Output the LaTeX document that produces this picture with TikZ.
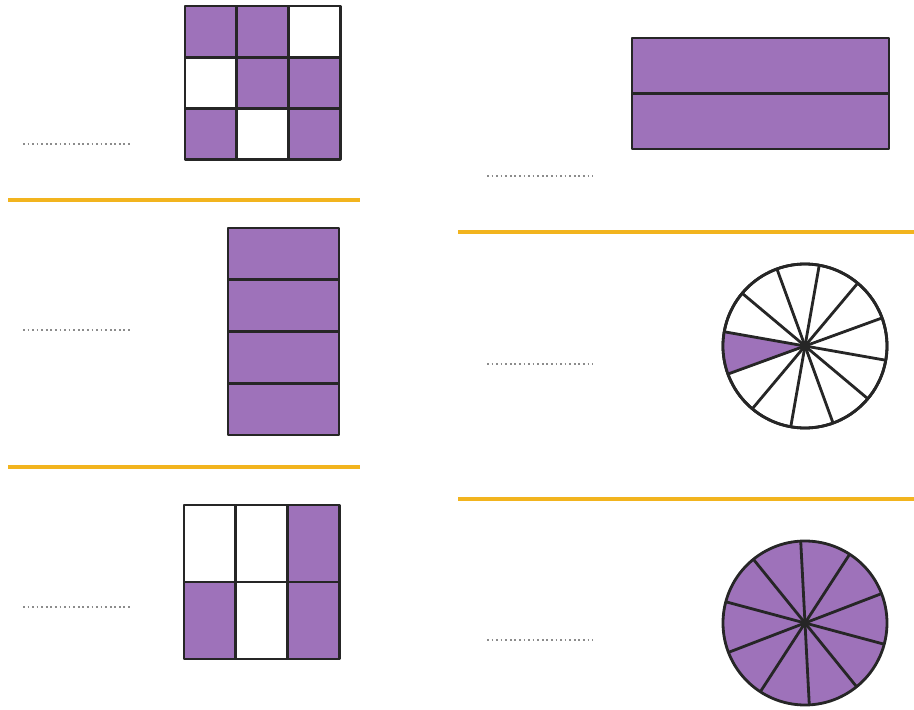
\documentclass[tikz,border=0pt]{standalone}
\usepackage{tikz}
\definecolor{fracpurple}{RGB}{158,114,186}
\definecolor{ruleyellow}{RGB}{242,180,30}
\tikzset{
  part/.style={draw=black!85,line width=1.6pt,line join=round},
  shade/.style={part,fill=fracpurple},
  blank/.style={part,fill=white},
  rule/.style={draw=ruleyellow,line width=2.1pt},
  answer/.style={draw=black!45,line width=0.8pt,dash pattern=on 1pt off 1.6pt}
}
\begin{document}
\begin{tikzpicture}[x=0.02cm,y=-0.02cm]
 \useasboundingbox (0,0) rectangle (914,710);
 % yellow separators
 \draw[rule] (8,200)--(360,200);
 \draw[rule] (8,467)--(360,467);
 \draw[rule] (458,232)--(914,232);
 \draw[rule] (458,499)--(914,499);
 % answer lines
 \draw[answer] (23,144)--(130,144);
 \draw[answer] (23,330)--(130,330);
 \draw[answer] (23,607)--(130,607);
 \draw[answer] (487,176)--(593,176);
 \draw[answer] (487,364)--(593,364);
 \draw[answer] (487,640)--(593,640);
 % 3x3 grid
 \foreach \c/\r/\s in {0/0/shade,1/0/shade,2/0/blank,0/1/blank,1/1/shade,2/1/shade,0/2/shade,1/2/blank,2/2/shade}
  \draw[\s] ({185+\c*51.7},{6+\r*51.3}) rectangle ++(51.7,51.3);
 % four strips
 \foreach \r in {0,...,3}
  \draw[shade] (228,{228+\r*51.75}) rectangle ++(111,51.75);
 % 3x2 grid
 \foreach \c/\r/\s in {0/0/blank,1/0/blank,2/0/shade,0/1/shade,1/1/blank,2/1/shade}
  \draw[\s] ({184+\c*51.7},{505+\r*77}) rectangle ++(51.7,77);
 % two halves
 \draw[shade] (632,38) rectangle (889,93.5);
 \draw[shade] (632,93.5) rectangle (889,149);
 % circle in twelfths
 \coordinate (c1) at (805,346);
 \draw[blank] (c1) circle[radius=82];
 \fill[fracpurple] (c1) -- ++(160:82) arc (160:190:82) -- cycle;
 \foreach \a in {0,...,11}
  \draw[part] (c1) -- ++({10+\a*30}:82);
 \draw[part] (c1) circle[radius=82];
 % circle in tenths
 \coordinate (c2) at (805,623);
 \draw[shade] (c2) circle[radius=82];
 \foreach \a in {0,...,9}
  \draw[part] (c2) -- ++({15+\a*36}:82);
\end{tikzpicture}
\end{document}
